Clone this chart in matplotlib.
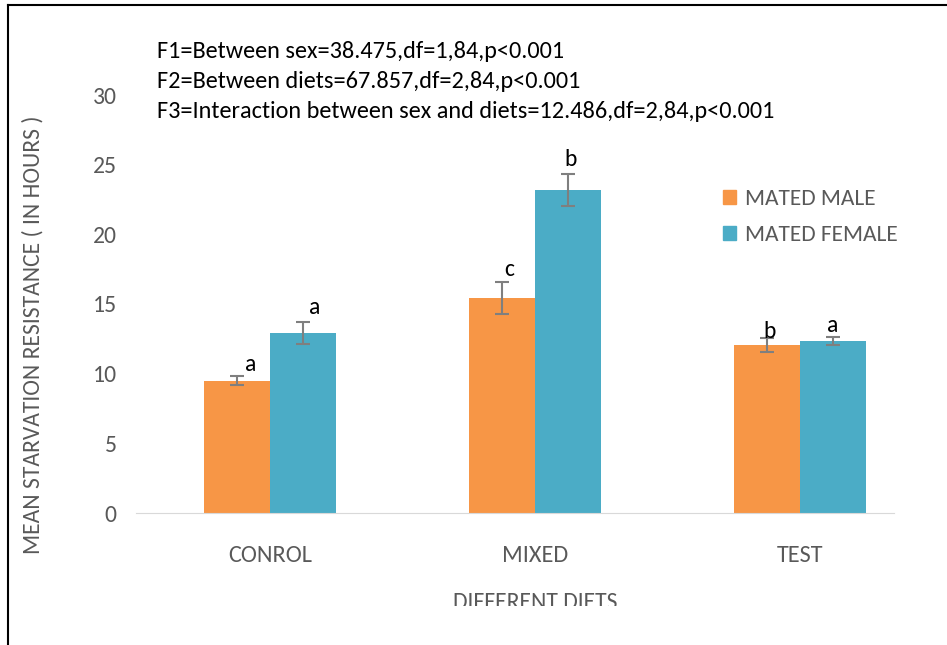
import numpy as np
import matplotlib.pyplot as plt
from matplotlib.lines import Line2D
from matplotlib.patches import Patch
from matplotlib.transforms import Bbox

# srednje vrijednosti i greske (sati)
dijete = ['CONROL', 'MIXED', 'TEST']
muzjaci = [9.5, 15.4, 12.05]
muzjaci_err = [0.3, 1.15, 0.5]
zenke = [12.9, 23.15, 12.35]
zenke_err = [0.8, 1.15, 0.3]
slova_m = ['a', 'c', 'b']
slova_z = ['a', 'b', 'a']
anova = ['F1=Between sex=38.475,df=1,84,p<0.001',
         'F2=Between diets=67.857,df=2,84,p<0.001',
         'F3=Interaction between sex and diets=12.486,df=2,84,p<0.001']

font = ['Carlito', 'DejaVu Sans']
siva = '#595959'
narancasta = '#F79646'
plava = '#4BACC6'

fig = plt.figure(figsize=(9.47, 6.45), dpi=100)
ax = fig.add_axes([136/947, 1 - 513/645, (894-136)/947, (513-95)/645])

x = np.arange(len(dijete))
w = 0.25
ax.bar(x - w/2, muzjaci, w, color=narancasta, yerr=muzjaci_err,
       error_kw=dict(ecolor='#7f7f7f', capsize=5, elinewidth=1.5, capthick=1.5))
ax.bar(x + w/2, zenke, w, color=plava, yerr=zenke_err,
       error_kw=dict(ecolor='#7f7f7f', capsize=5, elinewidth=1.5, capthick=1.5))

# slova znacajnosti iznad stupaca (pomaci po x i y)
dx_m = [0.05, 0.026, 0.01]
dx_z = [0.045, 0.01, 0.0]
dy_m = [0.1, 0.15, -0.3]
dy_z = [0.3, 0.3, 0.05]
for i in range(len(dijete)):
    ax.text(x[i] - w/2 + dx_m[i], muzjaci[i] + muzjaci_err[i] + dy_m[i], slova_m[i],
            ha='center', va='bottom', fontsize=17, family=font, color='black')
    ax.text(x[i] + w/2 + dx_z[i], zenke[i] + zenke_err[i] + dy_z[i], slova_z[i],
            ha='center', va='bottom', fontsize=17, family=font, color='black')

ax.set_xlim(-0.506, 2.355)
ax.set_ylim(0, 30)
ax.set_yticks(range(0, 31, 5))
ax.set_xticks(x)
ax.set_xticklabels(dijete)
ax.tick_params(length=0, colors=siva, labelsize=17, pad=14)
ax.tick_params(axis='x', labelsize=17.5, pad=23)
for lab in ax.get_xticklabels() + ax.get_yticklabels():
    lab.set_family(font)
for s in ['top', 'right', 'left']:
    ax.spines[s].set_visible(False)
ax.spines['bottom'].set_color('#D9D9D9')

fig.text(33/947, 1 - 335/645, 'MEAN STARVATION RESISTANCE ( IN HOURS )', rotation=90,
         ha='center', va='center', fontsize=17, color=siva, family=font)

# naslov osi x je odrezan na dnu slike
xl = fig.text(535/947, 1 - 609/645, 'DIFFERENT DIETS', ha='center', va='baseline',
              fontsize=17, color=siva, family=font)
xl.set_clip_box(Bbox([[0, 645 - 606], [947, 645]]))
xl.set_clip_on(True)

for j, t in enumerate(anova):
    fig.text(157/947, 1 - (52 + 30*j)/645, t, ha='left', va='center',
             fontsize=17.5, color='black', family=font)

ruc = [Patch(color=narancasta, label='MATED MALE'), Patch(color=plava, label='MATED FEMALE')]
leg = ax.legend(handles=ruc, loc='upper left', bbox_to_anchor=(702/947, 1 - 168/645),
                bbox_transform=fig.transFigure, frameon=False, handlelength=0.55,
                handleheight=0.55, handletextpad=0.4, labelspacing=0.7,
                prop={'family': font, 'size': 16.8})
for t in leg.get_texts():
    t.set_color(siva)

# okvir lijevo i gore
fig.add_artist(Line2D([8/947, 8/947], [0, 1 - 5/645], color='black', lw=1.5))
fig.add_artist(Line2D([8/947, 1], [1 - 5/645, 1 - 5/645], color='black', lw=1.5))

fig.savefig('out.png', dpi=100)
